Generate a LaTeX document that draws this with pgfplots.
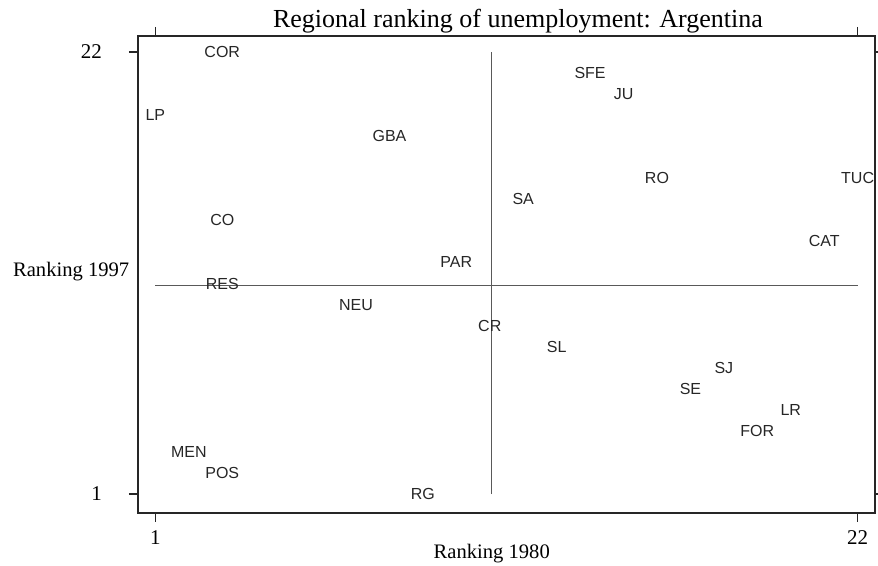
\documentclass[border=0pt]{standalone}
\usepackage{fontspec}
\setmainfont{Liberation Serif}
\newfontfamily\lsans{Liberation Sans}
\usepackage{pgfplots}
\usepackage{pgfplotstable}
\pgfplotsset{compat=1.18}
\pgfplotstableread{
label x y
COR 3 22
SFE 14 21
JU 15 20
LP 1 19
GBA 8 18
RO 16 16
TUC 22 16
SA 12 15
CO 3 14
CAT 21 13
PAR 10 12
RES 3 11
NEU 7 10
CR 11 9
SL 13 8
SJ 18 7
SE 17 6
LR 20 5
FOR 19 4
MEN 2 3
POS 3 2
RG 9 1
}\regions
\begin{document}
\begin{tikzpicture}
\useasboundingbox (0,0) rectangle (439pt,283pt);
\begin{axis}[
  at={(69pt,26.5pt)}, anchor=south west,
  scale only axis, width=368.5pt, height=238.5pt,
  xmin=0.48, xmax=22.52, ymin=0.1, ymax=22.76,
  xtick={1,22}, ytick={1,22},
  tick align=outside, major tick length=4.5pt,
  /pgf/number format/assume math mode=true,
  ticklabel style={font=\fontsize{10.5}{12}\selectfont},
  yticklabel style={xshift=-10pt},
  xticklabel style={yshift=-1pt},
  axis line style={black!85, line width=0.6pt},
  every tick/.style={black!85, line width=0.6pt},
  title={Regional ranking of unemployment: Argentina},
  title style={at={(rel axis cs:0.5156,0.992)}, anchor=base, font=\fontsize{13}{15}\selectfont, inner sep=0pt},
  xlabel={Ranking 1980},
  xlabel style={at={(rel axis cs:0.480,-0.0964)}, anchor=base, font=\fontsize{10.3}{12}\selectfont, inner sep=0pt},
  ylabel={Ranking 1997},
  ylabel style={at={(rel axis cs:-0.170,0.4948)}, anchor=base west, rotate=-90, font=\fontsize{10.3}{12}\selectfont, inner sep=0pt},
  clip=false,
]
\addplot[black!65, line width=0.6pt] coordinates {(11.05,1) (11.05,22)};
\addplot[black!65, line width=0.6pt] coordinates {(1,10.9) (22,10.9)};
\addplot[draw=none, mark=none, nodes near coords, point meta=explicit symbolic,
  nodes near coords style={anchor=center, inner sep=0pt, text=black!85, font=\lsans\fontsize{8}{9}\selectfont}]
  table[x=x, y=y, meta=label] {\regions};
\end{axis}
\end{tikzpicture}
\end{document}
